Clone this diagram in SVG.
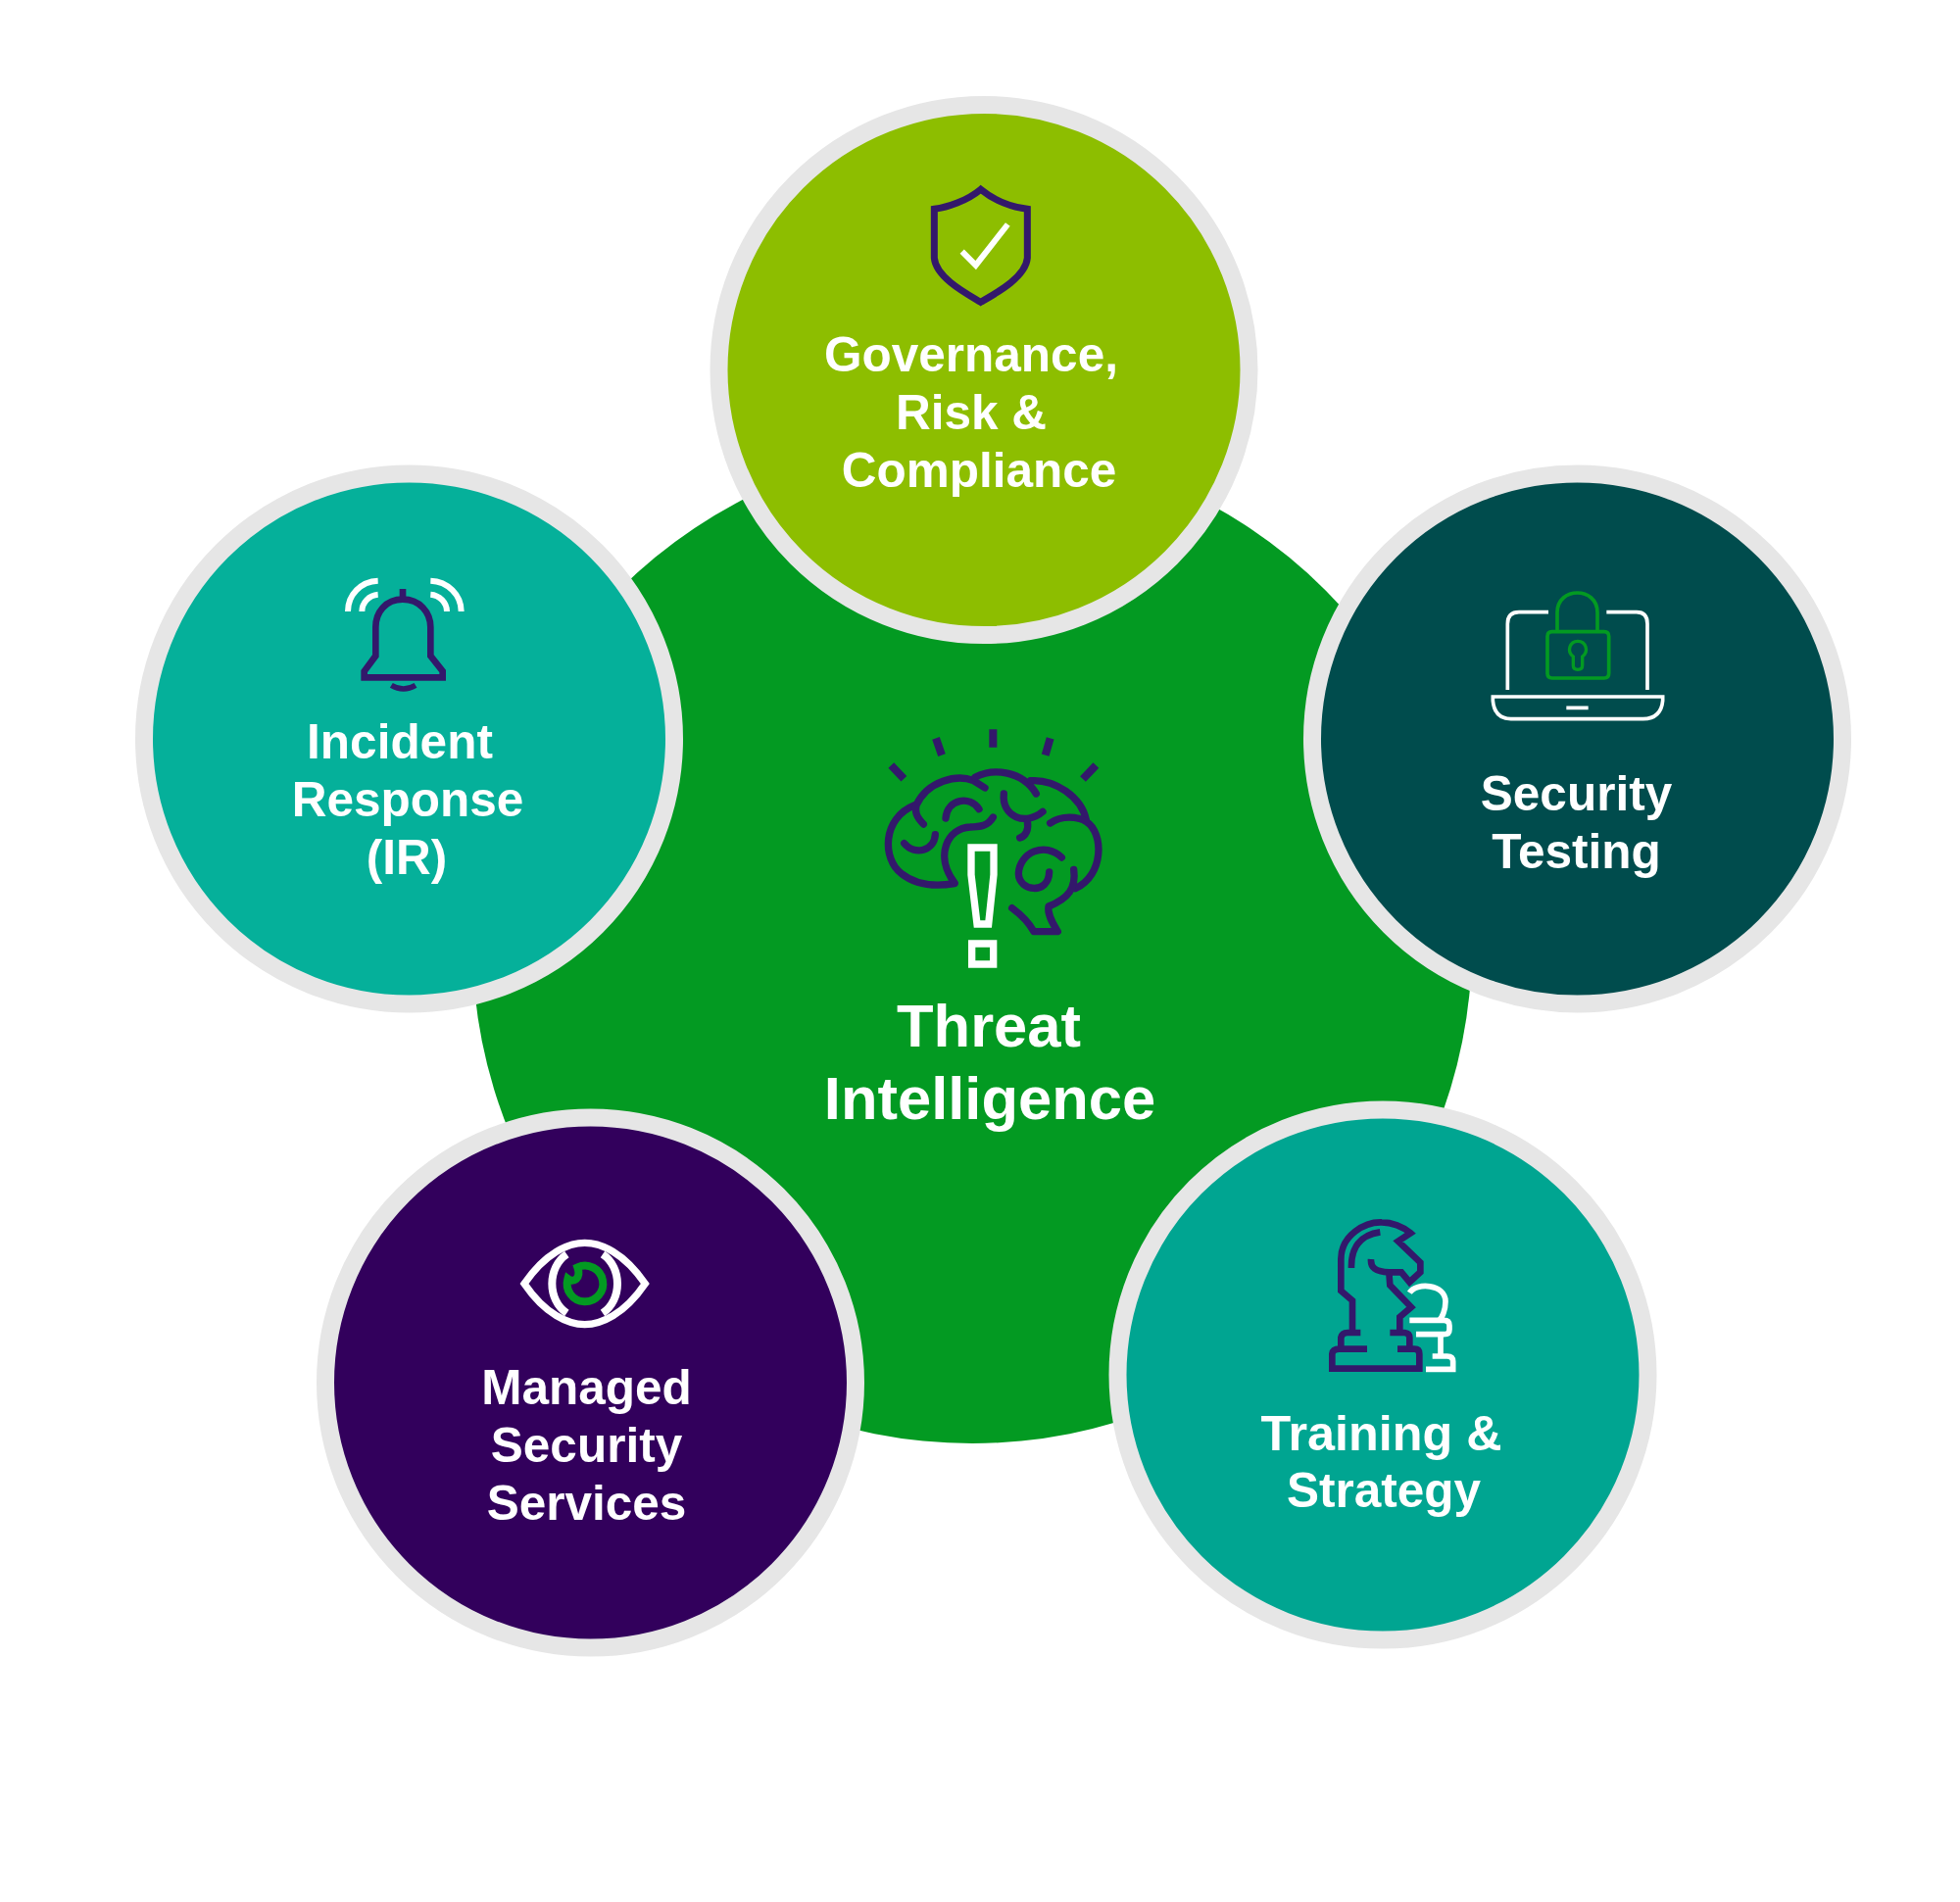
<svg xmlns="http://www.w3.org/2000/svg" width="2000" height="1941" viewBox="0 0 2000 1941">
<style>
.ring{stroke:#e6e6e6;stroke-width:18}
text{font-family:"Liberation Sans",Arial,sans-serif;font-weight:700;font-size:49.500px;fill:#fff;text-anchor:middle}
.big{font-size:61.500px}
.ic{fill:none;stroke-linecap:butt;stroke-linejoin:miter}
.p{stroke:#33186b}.w{stroke:#fff}.g{stroke:#039a22}
</style>
<rect width="2000" height="1941" fill="#fff"/>
<g id="connectors"/>
<g id="threat-intelligence">
<circle cx="992" cy="963" r="510" fill="#039a22"/>
<g class="ic" transform="translate(850 700) scale(.33333)">
<g class="p" stroke-width="24"><path d="M490 133V188M315 160L333 212M665 160L650 212M178 243L217 284M805 243L765 285"/></g>
<g class="p" stroke-width="22" stroke-linecap="round" stroke-linejoin="round" fill="none">
<path d="M372 605C330 612 260 615 210 575C150 530 150 405 250 365"/>
<path d="M277 423C255 400 250 385 255 365C290 290 380 270 430 290L465 312"/>
<path d="M435 280C490 250 580 260 622 330"/>
<path d="M605 290C680 285 760 340 775 410"/>
<path d="M665 420C700 395 750 400 775 415C830 450 830 580 742 620"/>
<path d="M737 562C745 620 720 650 660 675C655 700 675 730 688 752L615 752C600 725 575 700 548 680"/>
<path d="M345 405C350 345 420 335 447 377"/>
<path d="M218 482C250 520 310 505 313 455"/>
<path d="M490 402C470 435 440 430 420 432C350 435 310 520 372 603"/>
<path d="M523 330C515 400 590 430 642 385"/>
<path d="M595 415C600 440 590 460 572 465"/>
<path d="M700 525C650 475 570 510 568 575C570 630 660 640 662 570"/>
</g>
<g class="w" stroke-width="22">
<path d="M423 495H492V578L476 729H441L423 578Z"/>
<path d="M425 789H491V852H425Z"/>
</g>
</g>
<text class="big" x="1009" y="1068">Threat</text>
<text class="big" x="1010" y="1142">Intelligence</text>
</g>
<g id="governance">
<circle class="ring" cx="1004" cy="377.500" r="270.500" fill="#8dbe00"/>
<g class="ic" transform="translate(900 160) scale(.33333)">
<path class="p" stroke-width="21" d="M302 100C260 135 200 155 160 160V310C165 370 260 420 302 445C345 420 440 370 445 310V160C400 155 345 135 302 100Z"/>
<path class="w" stroke-width="18" d="M245 290L287 332L385 207"/>
</g>
<text x="991" y="379">Governance,</text>
<text x="991" y="438">Risk &amp;</text>
<text x="999" y="497">Compliance</text>
</g>
<g id="incident-response">
<circle class="ring" cx="417.500" cy="754" r="270.500" fill="#05b09a"/>
<g class="ic" transform="translate(320 570) scale(.33333)">
<path class="p" stroke-width="20" d="M273 93V125M273 125C220 125 190 165 190 210V298L155 345V364H395V345L358 298V210C358 165 325 125 273 125Z"/>
<path class="p" stroke-width="17" d="M238 388Q275 410 312 388"/>
<path class="w" stroke-width="18" d="M197 68C145 70 105 110 105 162M197 110C170 112 148 135 148 162M358 68C410 70 452 110 452 162M358 110C385 112 408 135 408 162"/>
</g>
<text x="408" y="774">Incident</text>
<text x="416" y="833">Response</text>
<text x="415" y="892">(IR)</text>
</g>
<g id="security-testing">
<circle class="ring" cx="1609.500" cy="754" r="270.500" fill="#004c4d"/>
<g class="ic" transform="translate(1500 590) scale(.33333)">
<path class="w" stroke-width="11" d="M240 104H150Q115 104 115 140V342M418 104H510Q543 104 543 140V342M70 363H590V375Q585 430 530 431H125Q75 430 70 375ZM295 397H362"/>
<path class="g" stroke-width="11" d="M251 164H411Q425 164 425 178V292Q425 306 411 306H251Q237 306 237 292V178Q237 164 251 164ZM267 160V105C267 25 390 25 390 105V160"/>
<path class="g" stroke-width="10" d="M330 193C305 193 295 225 316 240V268Q316 280 330 280Q344 280 344 268V240C365 225 355 193 330 193Z"/>
</g>
<text x="1608.500" y="827">Security</text>
<text x="1608.500" y="886">Testing</text>
</g>
<g id="training-strategy">
<circle class="ring" cx="1411" cy="1403" r="270.500" fill="#00a591"/>
<g class="ic" transform="translate(1330 1230) scale(.33333)">
<path class="p" stroke-width="20" d="M195 440H110Q90 440 88 455V500H355V455Q355 440 340 440H288M175 390H135Q118 390 115 405V435M265 390H310Q325 392 325 405V435M150 385V292L115 262V165C115 90 190 50 240 52C270 52 305 65 328 85L290 110L358 175V205L325 235L300 205H262M207 165C205 190 220 203 262 205L265 245L330 312L295 342V385M147 192C145 130 175 90 235 82"/>
<path class="w" stroke-width="17" d="M325 268C345 235 435 240 435 295C435 320 425 345 415 352M325 352H430Q447 352 447 368V380Q447 395 430 395H345M420 395V462M395 462H440Q458 462 458 478V502H375"/>
</g>
<text x="1409.500" y="1480" textLength="246" lengthAdjust="spacingAndGlyphs">Training &amp;</text>
<text x="1412" y="1538">Strategy</text>
</g>
<g id="managed-security">
<circle class="ring" cx="602.500" cy="1411" r="270.500" fill="#32005c"/>
<g class="ic" transform="translate(510 1250) scale(.33333)">
<path class="w" stroke-width="22" d="M75 180C140 85 210 55 260 55C310 55 380 85 445 180C380 275 310 305 260 305C210 305 140 275 75 180Z"/>
<path class="w" stroke-width="24" d="M205 90C145 130 145 230 205 270M315 90C375 130 375 230 315 270"/>
<path class="g" stroke-width="24" d="M208 165C225 178 250 165 238 130A55 55 0 1 1 208 165Z"/>
</g>
<text x="598.500" y="1433">Managed</text>
<text x="598.500" y="1492">Security</text>
<text x="598.500" y="1551">Services</text>
</g>
</svg>
